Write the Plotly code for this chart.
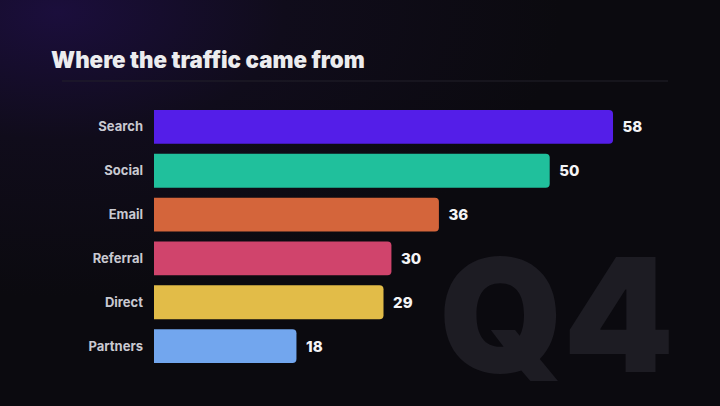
import plotly.graph_objects as go

# data
channels = ["Search", "Social", "Email", "Referral", "Direct", "Partners"]
visits = [58, 50, 36, 30, 29, 18]
bar_colors = ["#541ee8", "#20c09c", "#d4653b", "#d0446c", "#e2bc48", "#72a6ee"]
title_text = "Where the traffic came from"
watermark = "Q4"

W, H = 720, 406
ML, MR, MT, MB = 154, 12, 105, 38
PW, PH = W - ML - MR, H - MT - MB


def px_x(px):
    # page pixel -> paper x
    return (px - ML) / PW


def px_y(py):
    # page pixel -> paper y
    return 1 - (py - MT) / PH


bg_svg = (
    "data:image/svg+xml;utf8,"
    "<svg xmlns='http://www.w3.org/2000/svg' width='720' height='406'>"
    "<defs><radialGradient id='g' cx='0.08' cy='0.03' r='0.7'>"
    "<stop offset='0' stop-color='%231b0e3c'/>"
    "<stop offset='0.45' stop-color='%23100c1b'/>"
    "<stop offset='1' stop-color='%230b0a0f'/>"
    "</radialGradient></defs>"
    "<rect width='720' height='406' fill='url(%23g)'/></svg>"
)

fig = go.Figure()

fig.add_trace(go.Bar(
    x=visits,
    y=channels,
    orientation="h",
    marker=dict(color=bar_colors, cornerradius=4, line=dict(width=0)),
    width=0.77,
    text=visits,
    texttemplate="  %{text}",
    textposition="outside",
    cliponaxis=False,
    textfont=dict(family="Inter", size=15, color="#f4f4f6", weight=800),
    hoverinfo="skip",
    showlegend=False,
))

fig.update_layout(
    width=W,
    height=H,
    margin=dict(l=ML, r=MR, t=MT, b=MB),
    paper_bgcolor="#0b0a0f",
    plot_bgcolor="rgba(0,0,0,0)",
    title=dict(
        text=title_text,
        xref="container", yref="container",
        x=51 / W, y=1 - 60 / H,
        xanchor="left", yanchor="middle",
        font=dict(family="Inter", size=22.3, color="#ececee", weight=900),
    ),
    xaxis=dict(range=[0, 70], visible=False, fixedrange=True),
    yaxis=dict(
        categoryorder="array",
        categoryarray=channels,
        autorange="reversed",
        showgrid=False, zeroline=False, showline=False,
        ticks="",
        ticklabelstandoff=10,
        tickfont=dict(family="Inter", size=13, color="#c9c9d1", weight=700),
        fixedrange=True,
    ),
    images=[dict(
        source=bg_svg,
        xref="paper", yref="paper",
        x=px_x(0), y=px_y(0),
        sizex=W / PW, sizey=H / PH,
        sizing="stretch",
        xanchor="left", yanchor="top",
        layer="below",
    )],
    shapes=[dict(
        type="line",
        xref="paper", yref="paper",
        x0=px_x(62), x1=px_x(668), y0=px_y(81), y1=px_y(81),
        line=dict(color="#22212a", width=1),
    )],
    annotations=[dict(
        text=watermark,
        xref="paper", yref="paper",
        x=px_x(556), y=px_y(314),
        xanchor="center", yanchor="middle",
        showarrow=False,
        font=dict(family="Inter", size=158, color="#1d1c23", weight=900),
    )],
)

fig.write_html(
    "out.html",
    config={"displayModeBar": False},
    post_script="document.body.style.margin='0';document.body.style.background='#0b0a0f';",
)
